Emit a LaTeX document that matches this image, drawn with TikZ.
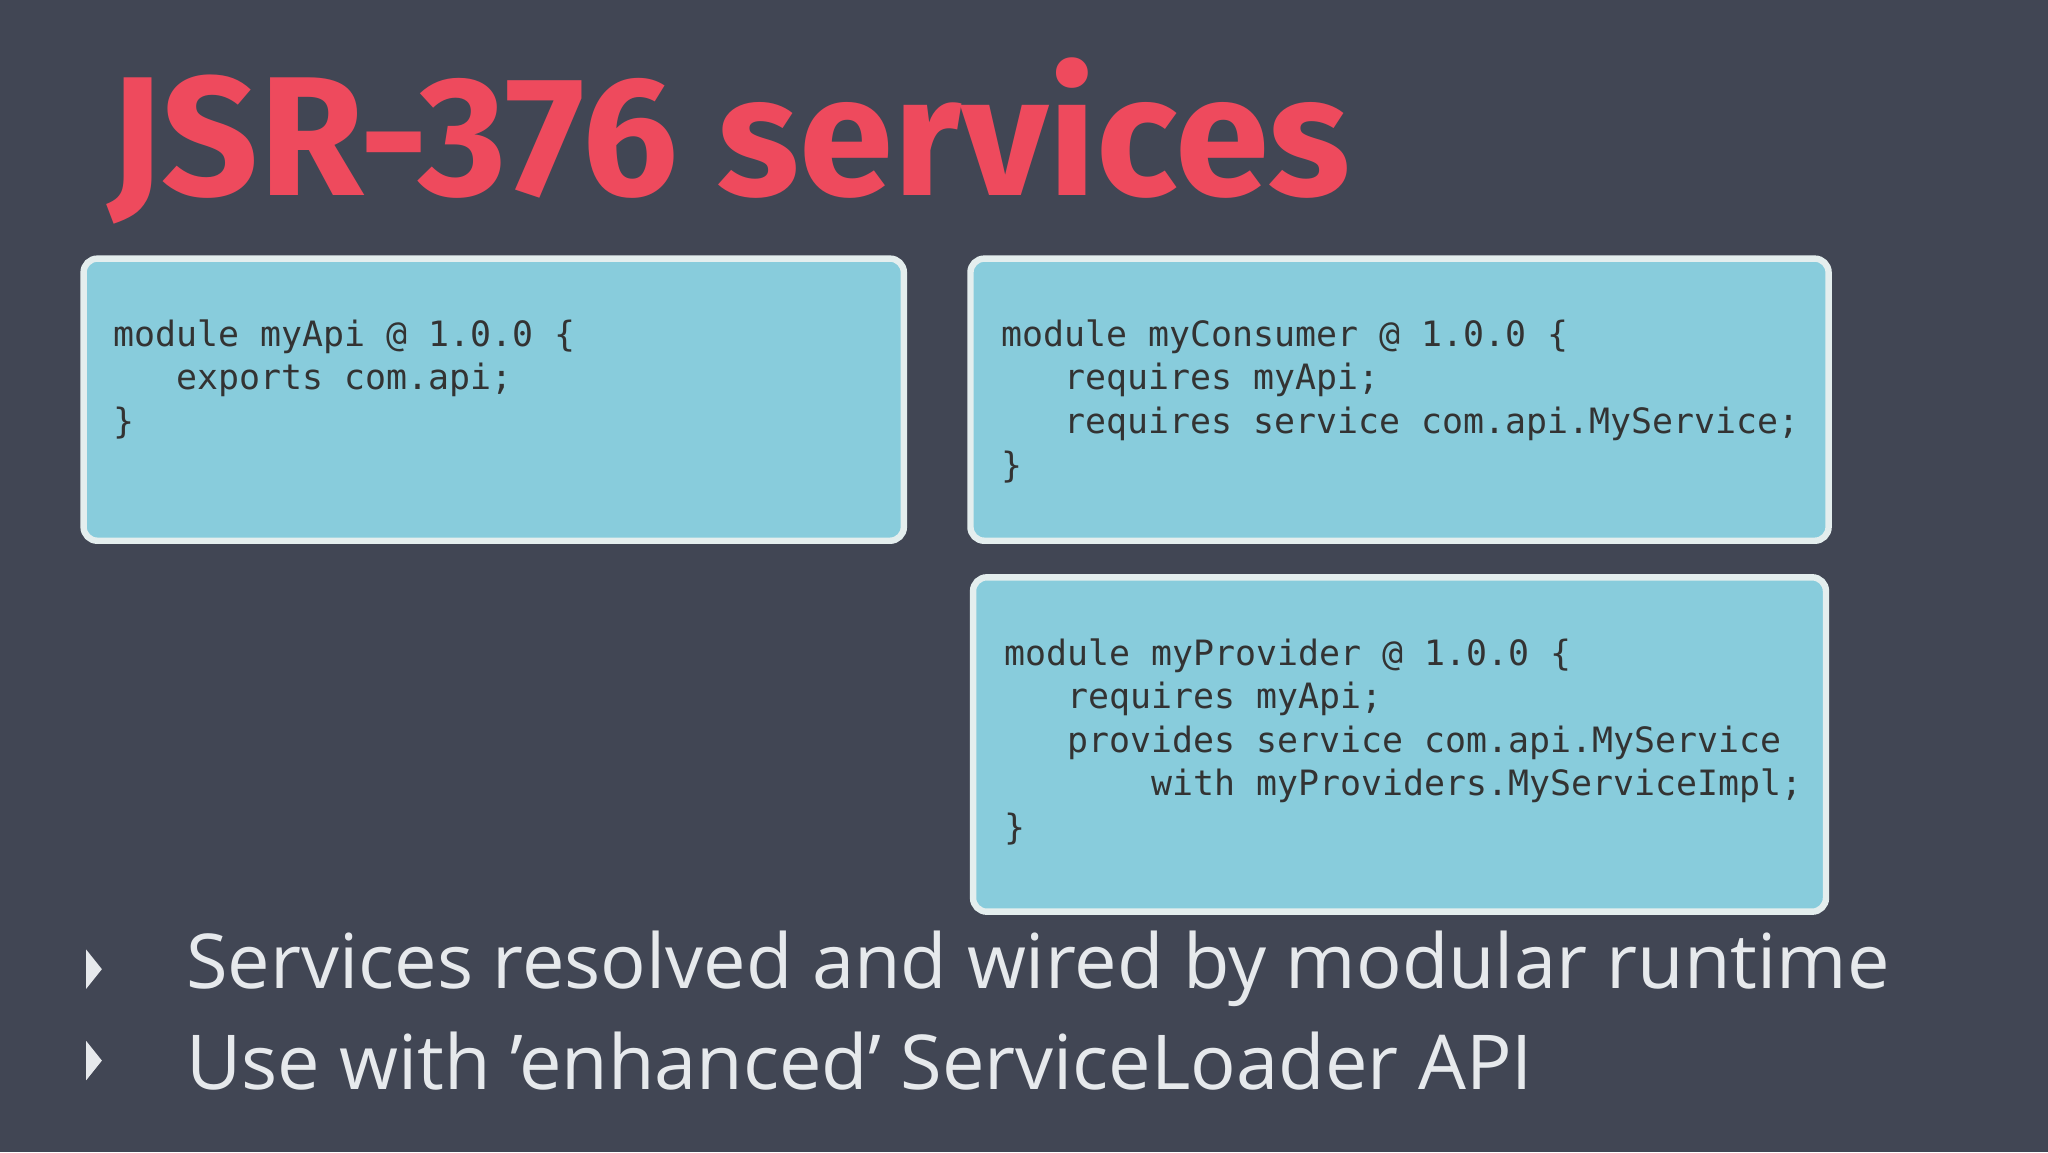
\documentclass[tikz,border=0pt]{standalone}
\usepackage{fontspec}
\setmainfont{Open Sans}
\newfontfamily\titlefont{Fira Sans}
\setmonofont{DejaVu Sans Mono}
\usetikzlibrary{positioning}
\definecolor{slide}{HTML}{414654}
\definecolor{jsr}{HTML}{EE4A5D}
\definecolor{codebox}{HTML}{88CCDC}
\definecolor{boxedge}{HTML}{E4EEEE}
\definecolor{bullettext}{HTML}{E6E9EC}
\tikzset{code_box/.style={draw=boxedge, line width=1.4pt, fill=codebox, rounded corners=3pt},
	code_text/.style={anchor=north west, align=left, inner sep=0pt, text=black!80,
		font=\fontsize{7.6pt}{9.5pt}\ttfamily},
	bullet_text/.style={anchor=west, inner sep=0pt, text=bullettext, font=\fontsize{16.5pt}{20pt}\selectfont},
	bullet_mark/.style={fill=bullettext}
}
\newcommand{\ind}[1]{\hphantom{#1}}
\begin{document}
\begin{tikzpicture}
				\fill[slide] (0,0) rectangle (15.68,8.82);
				\useasboundingbox (0,0) rectangle (15.68,8.82);
				\node[anchor=base west, inner sep=0pt, text=jsr, font=\fontsize{37pt}{40pt}\titlefont\bfseries] (title) at (0.82,7.32) {JSR-376 services};
				
				% code boxes
				\draw[code_box] (0.64,6.84) rectangle (6.92,4.68);
				\draw[code_box] (7.43,6.84) rectangle (14.00,4.68);
				\draw[code_box] (7.45,4.40) rectangle (13.98,1.84);
				
				\node[code_text] (api) at (0.86,6.38) {module myApi @ 1.0.0 \{\\ \ind{000}exports com.api;\\ \}};
				\node[code_text] (consumer) at (7.66,6.38) {module myConsumer @ 1.0.0 \{\\ \ind{000}requires myApi;\\ \ind{000}requires service com.api.MyService;\\ \}};
				\node[code_text] (provider) at (7.68,3.94) {module myProvider @ 1.0.0 \{\\ \ind{000}requires myApi;\\ \ind{000}provides service com.api.MyService\\ \ind{0000000}with myProviders.MyServiceImpl;\\ \}};
				
				% bullets
				\node[bullet_text] (resolved) at (1.42,1.40) {Services resolved and wired by modular runtime};
				\node[bullet_text] (loader) at (1.42,0.70) {Use with 'enhanced' ServiceLoader API};
				\fill[bullet_mark] (0.66,1.55) -- (0.78,1.40) -- (0.66,1.25) -- cycle;
				\fill[bullet_mark] (0.66,0.85) -- (0.78,0.70) -- (0.66,0.55) -- cycle;
			\end{tikzpicture}
\end{document}
